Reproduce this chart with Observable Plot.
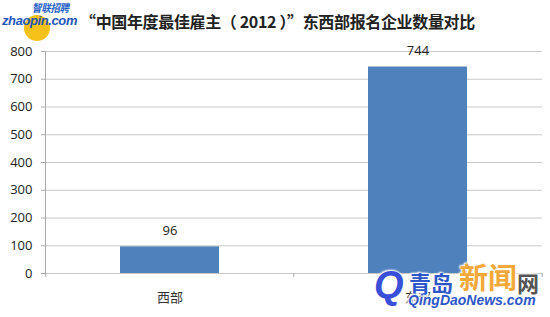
<!DOCTYPE html>
<html>
<head>
<meta charset="utf-8">
<script src="https://cdn.jsdelivr.net/npm/d3@7"></script>
<script src="https://cdn.jsdelivr.net/npm/@observablehq/plot@0.6"></script>
<style>
  html, body { margin: 0; padding: 0; background: #fff; }
  #wrap { position: relative; width: 550px; height: 317px; overflow: hidden; font-family: "Noto Sans CJK SC", "Noto Sans", sans-serif; }
  #chart { position: absolute; left: 0; top: 0; }
  .abs { position: absolute; white-space: nowrap; line-height: 1; }
  #title { left: 80px; top: 13px; font-size: 16px; font-weight: bold; color: #222; letter-spacing: -0.35px; }
  #logoCircle { left: 24px; top: 15px; width: 26px; height: 26px; border-radius: 50%; background: #f6c21a; }
  #logoCn { left: 32px; top: 3px; font-size: 9.5px; font-weight: bold; font-style: italic; color: #2a63c6; transform: scaleY(1.15); transform-origin: top left; letter-spacing: -0.3px; }
  #logoEn { left: 2px; top: 14px; font-size: 13px; font-weight: bold; font-style: italic; color: #1f56b8; font-family: "Liberation Sans", Arial, sans-serif; letter-spacing: -0.4px; }
  .halo { text-shadow: 0 0 2px #fff, 0 0 3px #fff, 1px 1px 2px #fff, -1px -1px 2px #fff; }
  #wmQ { left: 374px; top: 266px; font-size: 38px; font-weight: bold; font-style: italic; color: #3a4fd8; font-family: "Liberation Sans", Arial, sans-serif; }
  #wmCn1 { left: 409px; top: 271px; font-size: 22px; font-weight: bold; color: #2d57c8; }
  #wmCn2 { left: 459px; top: 262px; font-size: 29px; font-weight: bold; color: #f3a93a; }
  #wmCn3 { left: 517px; top: 271px; font-size: 22px; font-weight: bold; color: #555; }
  #wmEn { left: 408px; top: 293px; font-size: 14px; font-weight: bold; font-style: italic; color: #2d57c8; font-family: "Liberation Sans", Arial, sans-serif; }
</style>
</head>
<body>
<div id="wrap">
  <div id="chart"></div>
  <div class="abs" id="logoCircle"></div>
  <div class="abs" id="logoCn">智联招聘</div>
  <div class="abs" id="logoEn">zhaopin.com</div>
  <div class="abs" id="title">“中国年度最佳雇主（ 2012 ）”东西部报名企业数量对比</div>
  <div class="abs halo" id="wmQ">Q</div>
  <div class="abs halo" id="wmCn1">青岛</div>
  <div class="abs halo" id="wmCn2">新闻</div>
  <div class="abs halo" id="wmCn3">网</div>
  <div class="abs halo" id="wmEn">QingDaoNews.com</div>
</div>
<script>
const categories = ["西部", "东部"];
const counts = [96, 744];
const yTicks = [0, 100, 200, 300, 400, 500, 600, 700, 800];

const data = categories.map((c, i) => ({category: c, count: counts[i]}));

const W = 550, H = 317;
const mL = 45, mR = 8, mT = 51, mB = 44;
const step = (W - mR - mL) / categories.length;
const font = "'Open Sans', 'Noto Sans CJK SC', sans-serif";

const chart = Plot.plot({
  width: W,
  height: H,
  marginLeft: mL,
  marginRight: mR,
  marginTop: mT,
  marginBottom: mB,
  style: {fontFamily: font, fontSize: "13px", color: "#333", background: "transparent"},
  x: {domain: categories, range: [mL, W - mR], paddingInner: 0.6, paddingOuter: 0.3, axis: null, label: null},
  y: {domain: [0, 800], axis: null, label: null},
  marks: [
    Plot.ruleY(yTicks, {stroke: "#c8c8c8", strokeWidth: 1}),
    Plot.ruleX(categories, {x: d => d, dx: -step / 2, y1: 0, y2: 0, insetBottom: -4, stroke: "#aaa"}),
    Plot.ruleX([categories[categories.length - 1]], {x: d => d, dx: step / 2, y1: 0, y2: 0, insetBottom: -4, stroke: "#aaa"}),
    Plot.barY(data, {x: "category", y: "count", fill: "#4f81bd"}),
    Plot.text(data, {x: "category", y: "count", text: d => String(d.count), dy: -16, lineAnchor: "middle", fill: "#222", fontSize: 13}),
    Plot.text(data, {x: "category", frameAnchor: "bottom", text: "category", dy: 24, lineAnchor: "middle", fill: "#333", fontSize: 13, fontFamily: "'Noto Sans CJK SC', sans-serif"}),
    Plot.frame({anchor: "left", stroke: "#aaa"}),
    Plot.axisY({ticks: yTicks, tickSize: 4, tickPadding: 9, stroke: "#aaa", fill: "#222", fontSize: 13, label: null, tickFormat: d => String(d)})
  ]
});
document.getElementById("chart").appendChild(chart);
</script>
</body>
</html>
